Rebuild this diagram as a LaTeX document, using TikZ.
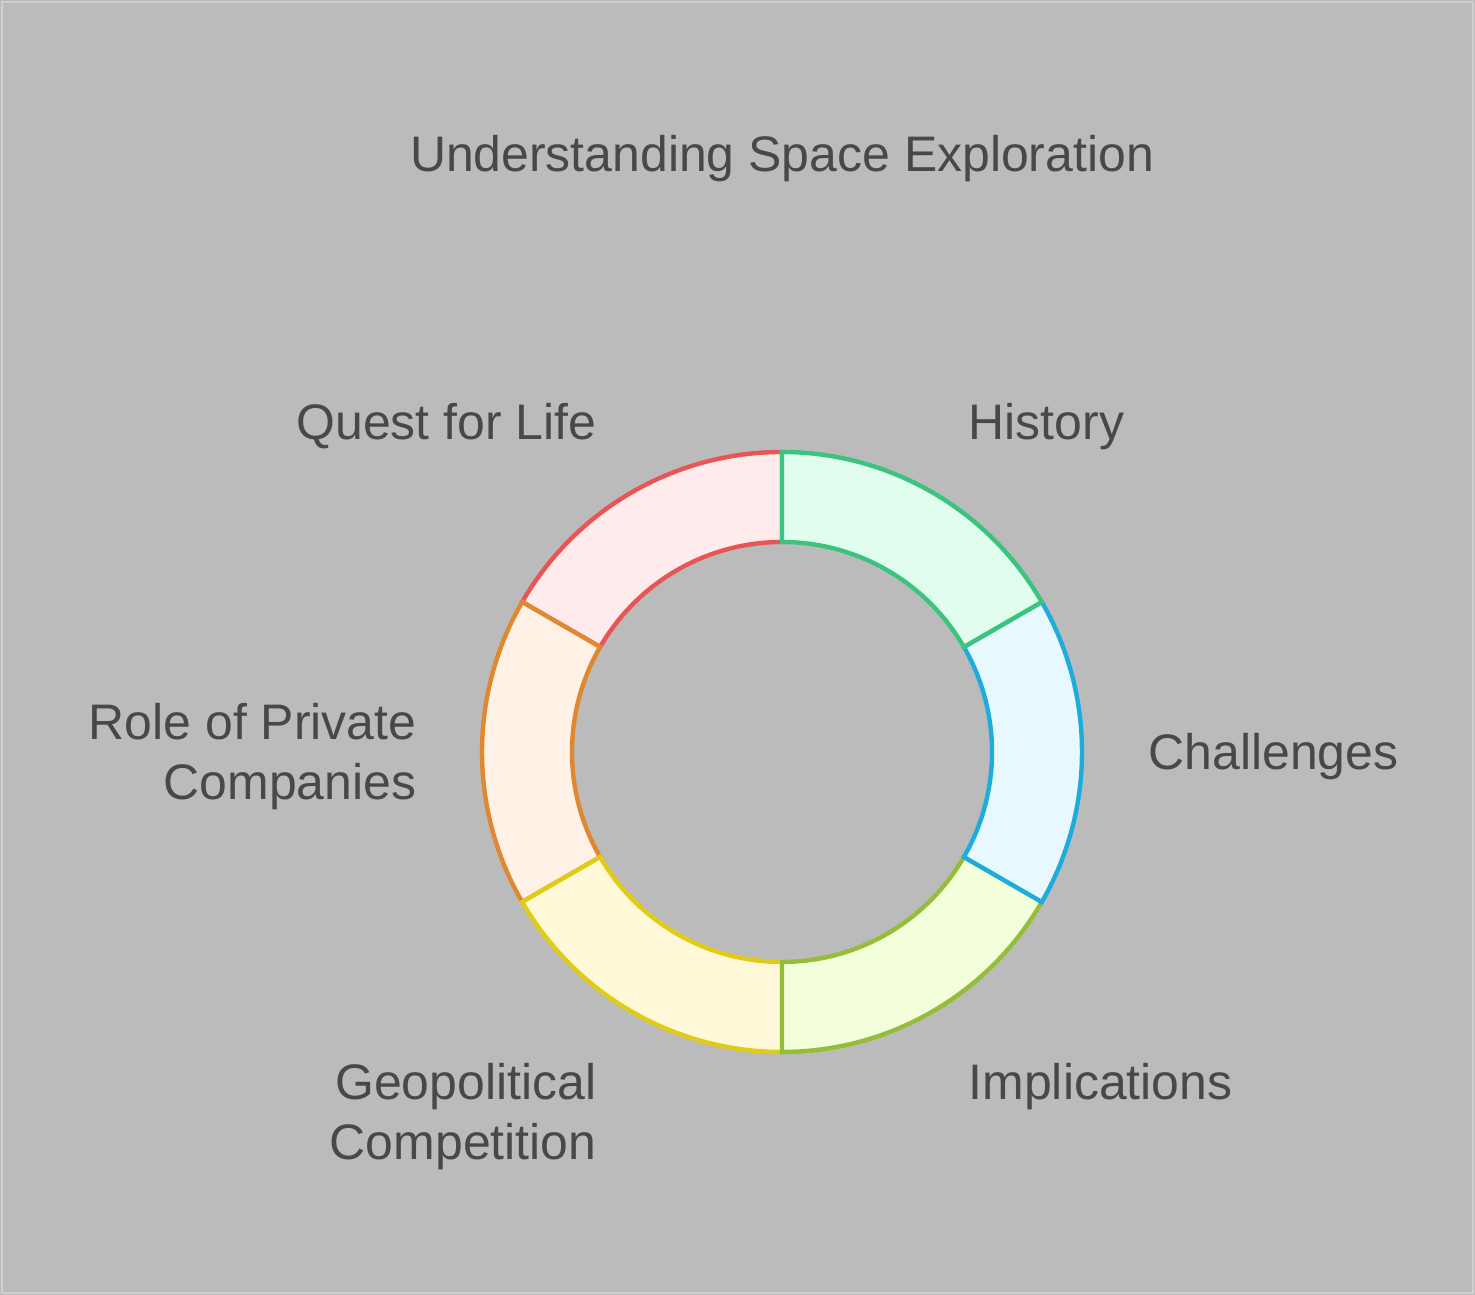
\documentclass[tikz,border=0pt]{standalone}
\usepackage{fontspec}
\setmainfont{Liberation Sans}
\usepackage{tikz}

\definecolor{bggray}{HTML}{BBBBBB}
\definecolor{framegray}{HTML}{CFCFCF}
\definecolor{txtgray}{HTML}{484848}
\definecolor{questline}{HTML}{E85555}
\definecolor{questfill}{HTML}{FFEBEB}
\definecolor{roleline}{HTML}{E08830}
\definecolor{rolefill}{HTML}{FFF1E5}
\definecolor{geoline}{HTML}{E0CC14}
\definecolor{geofill}{HTML}{FFF9DA}
\definecolor{implline}{HTML}{94BE38}
\definecolor{implfill}{HTML}{F2FFDA}
\definecolor{challline}{HTML}{1EACDC}
\definecolor{challfill}{HTML}{E8F8FF}
\definecolor{histline}{HTML}{3CC47E}
\definecolor{histfill}{HTML}{E0FDEE}

\tikzset{
  label/.style={text=txtgray, inner sep=0pt, font=\fontsize{14.2pt}{17.07pt}\selectfont},
  ring/.style={line width=1.25pt, line join=miter}
}

\begin{document}
\begin{tikzpicture}[x=0.01cm, y=0.01cm]
% Background
\fill[bggray] (0,0) rectangle (1475,1295);
\draw[framegray, line width=0.6pt] (2,2) rectangle (1473,1293);
\useasboundingbox (0,0) rectangle (1475,1295);

% Ring
\begin{scope}[shift={(782,543)}]
\foreach \a/\b/\c in {90/150/quest, 150/210/role, 210/270/geo, 270/330/impl, 330/390/chall, 30/90/hist}
  \draw[ring, draw=\c line, fill=\c fill] (\a:300) arc[start angle=\a, end angle=\b, radius=300]
    -- (\b:210) arc[start angle=\b, end angle=\a, radius=210] -- cycle;
\end{scope}

% Labels
\node[label, anchor=base] (title) at (782,1123) {Understanding Space Exploration};
\node[label, anchor=base west] (hist) at (968,855) {History};
\node[label, anchor=base east] (quest) at (597,855) {Quest for Life};
\node[label, anchor=base west] (chall) at (1148,525) {Challenges};
\node[label, anchor=base west] (impl) at (968,195) {Implications};
\node[label, anchor=base east, align=right] (geo) at (597,135) {Geopolitical\\Competition};
\node[label, anchor=base east, align=right] (role) at (417,495) {Role of Private\\Companies};
\end{tikzpicture}
\end{document}
